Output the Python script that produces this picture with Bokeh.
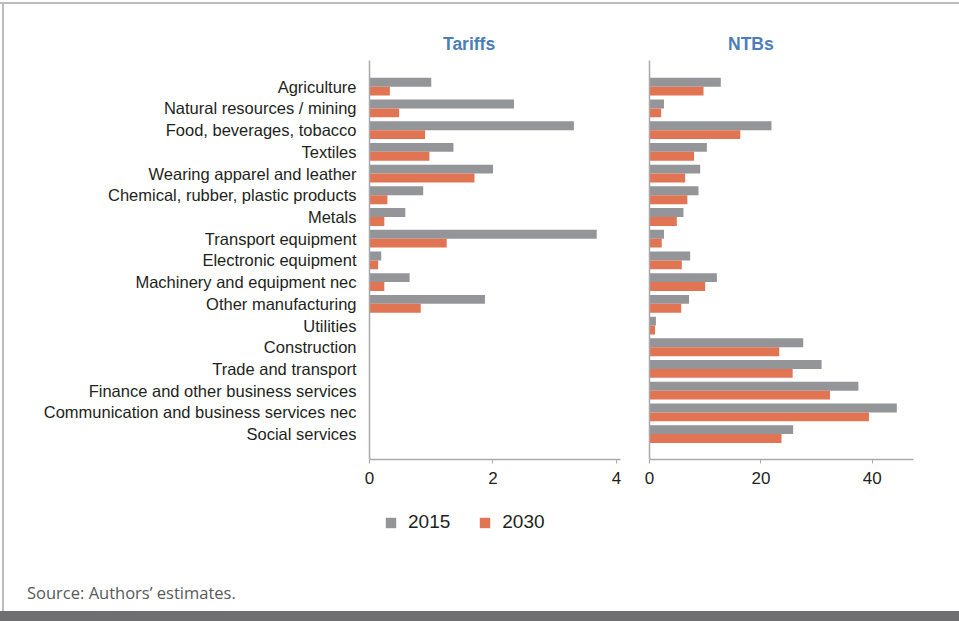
from bokeh.plotting import figure
from bokeh.models import Range1d, FixedTicker, Legend, LegendItem, Spacer, Div
from bokeh.layouts import row, column
from bokeh.embed import file_html
from bokeh.resources import INLINE

categories = [
    "Agriculture",
    "Natural resources / mining",
    "Food, beverages, tobacco",
    "Textiles",
    "Wearing apparel and leather",
    "Chemical, rubber, plastic products",
    "Metals",
    "Transport equipment",
    "Electronic equipment",
    "Machinery and equipment nec",
    "Other manufacturing",
    "Utilities",
    "Construction",
    "Trade and transport",
    "Finance and other business services",
    "Communication and business services nec",
    "Social services",
]
tariffs_2015 = [1.0, 2.34, 3.31, 1.36, 2.0, 0.87, 0.58, 3.68, 0.19, 0.65, 1.87, 0, 0, 0, 0, 0, 0]
tariffs_2030 = [0.33, 0.48, 0.90, 0.97, 1.70, 0.29, 0.24, 1.25, 0.14, 0.24, 0.83, 0, 0, 0, 0, 0, 0]
ntbs_2015 = [12.8, 2.6, 21.9, 10.3, 9.1, 8.8, 6.1, 2.6, 7.3, 12.1, 7.1, 1.15, 27.6, 30.9, 37.5, 44.4, 25.8]
ntbs_2030 = [9.7, 2.1, 16.3, 8.0, 6.4, 6.8, 4.9, 2.2, 5.8, 10.0, 5.7, 1.0, 23.3, 25.7, 32.4, 39.4, 23.7]
series_labels = ["2015", "2030"]
panel_titles = ["Tariffs", "NTBs"]
tariff_ticks = [0, 2, 4]
ntb_ticks = [0, 20, 40]
source_text = "Source: Authors\u2019 estimates."

GRAY = "#939598"
ORANGE = "#E07453"
AXIS = "#a7a9ac"
TEXT = "#231f20"
TITLE = "#4a7ebb"
FONT = "Liberation Sans"

idx = list(range(len(categories)))
y_top = [i - 0.205 for i in idx]
y_bot = [i + 0.205 for i in idx]
BAR_H = 0.41
FIG_H = 440


def make_panel(width, border_left, border_right, xmax, ticks, v15, v30, show_labels):
    p = figure(width=width, height=FIG_H, output_backend="svg", toolbar_location=None,
               x_range=Range1d(0, xmax), y_range=Range1d(17.17, -1.207),
               min_border_left=border_left, min_border_right=border_right,
               min_border_top=0, min_border_bottom=41)
    p.outline_line_color = None
    p.grid.visible = False
    p.background_fill_color = "white"
    p.border_fill_color = "white"
    p.hbar(y=y_top, right=v15, left=0, height=BAR_H, color=GRAY, line_color=None)
    p.hbar(y=y_bot, right=v30, left=0, height=BAR_H, color=ORANGE, line_color=None)

    xa = p.xaxis[0]
    xa.ticker = FixedTicker(ticks=ticks)
    xa.axis_line_color = AXIS
    xa.axis_line_width = 1.5
    xa.major_tick_line_color = AXIS
    xa.major_tick_out = 4
    xa.major_tick_in = 0
    xa.minor_tick_line_color = None
    xa.major_label_text_font = FONT
    xa.major_label_text_font_size = "17px"
    xa.major_label_text_color = TEXT
    xa.major_label_standoff = 8

    ya = p.yaxis[0]
    ya.axis_line_color = AXIS
    ya.axis_line_width = 1.5
    ya.major_tick_line_color = None
    ya.minor_tick_line_color = None
    if show_labels:
        ya.ticker = FixedTicker(ticks=idx)
        ya.major_label_overrides = {i: c for i, c in zip(idx, categories)}
        ya.major_label_text_font = FONT
        ya.major_label_text_font_size = "16.5px"
        ya.major_label_text_color = TEXT
        ya.major_label_standoff = 7
    else:
        ya.ticker = FixedTicker(ticks=[])
        ya.major_label_text_font_size = "0px"
        ya.major_label_standoff = 0
    return p


pA = make_panel(630, 365, 14, 4.065, tariff_ticks, tariffs_2015, tariffs_2030, True)
pB = make_panel(323, 15, 44, 47.4, ntb_ticks, ntbs_2015, ntbs_2030, False)

# legend strip: its own small figure; the series are drawn outside its visible range,
# so only the legend keys (taken from those renderers) show
leg_fig = figure(width=630, height=50, output_backend="svg", toolbar_location=None,
                 x_range=Range1d(0, 1), y_range=Range1d(100, 101),
                 min_border_left=0, min_border_right=0, min_border_top=0, min_border_bottom=0,
                 x_axis_location=None, y_axis_location=None)
leg_fig.outline_line_color = None
leg_fig.grid.visible = False
k15 = leg_fig.hbar(y=y_top, right=tariffs_2015, left=0, height=BAR_H, color=GRAY, line_color=None)
k30 = leg_fig.hbar(y=y_bot, right=tariffs_2030, left=0, height=BAR_H, color=ORANGE, line_color=None)
legend = Legend(items=[LegendItem(label=series_labels[0], renderers=[k15]),
                       LegendItem(label=series_labels[1], renderers=[k30])],
                location=(380, 16), orientation="horizontal",
                glyph_width=13, glyph_height=13, label_standoff=11, spacing=28,
                label_height=24, padding=0, margin=0, border_line_color=None,
                background_fill_alpha=0,
                label_text_font=FONT, label_text_font_size="19px", label_text_color=TEXT)
leg_fig.add_layout(legend)


def title_div(t):
    html = (f'<div style="margin-top:30px;font-family:\'{FONT}\';font-weight:bold;'
            f'font-size:17.5px;line-height:20px;color:{TITLE};white-space:nowrap">{t}</div>')
    return Div(text=html, width=80, height=56, margin=0)


header = row(Spacer(width=439, height=56), title_div(panel_titles[0]),
             Spacer(width=205, height=56), title_div(panel_titles[1]))

source_html = ('<div style="margin-top:33px;margin-left:23px;font-family:\'Open Sans\';'
               'font-size:16.5px;line-height:20px;color:#58595b;white-space:nowrap">'
               f'{source_text}</div>')
source_div = Div(text=source_html, width=400, height=61, margin=0)

inner = column(header, row(pA, pB), leg_fig, source_div)

top_gap = Spacer(width=959, height=2)
top_line = Spacer(width=959, height=2, background="#bcbcbc")
left_gap = Spacer(width=2, height=607)
left_line = Spacer(width=2, height=607, background="#bcbcbc")
bottom_band = Spacer(width=959, height=10, background="#6f6f72")

layout = column(top_gap, top_line, row(left_gap, left_line, inner), bottom_band)

open("out.html", "w").write(file_html(layout, INLINE))
